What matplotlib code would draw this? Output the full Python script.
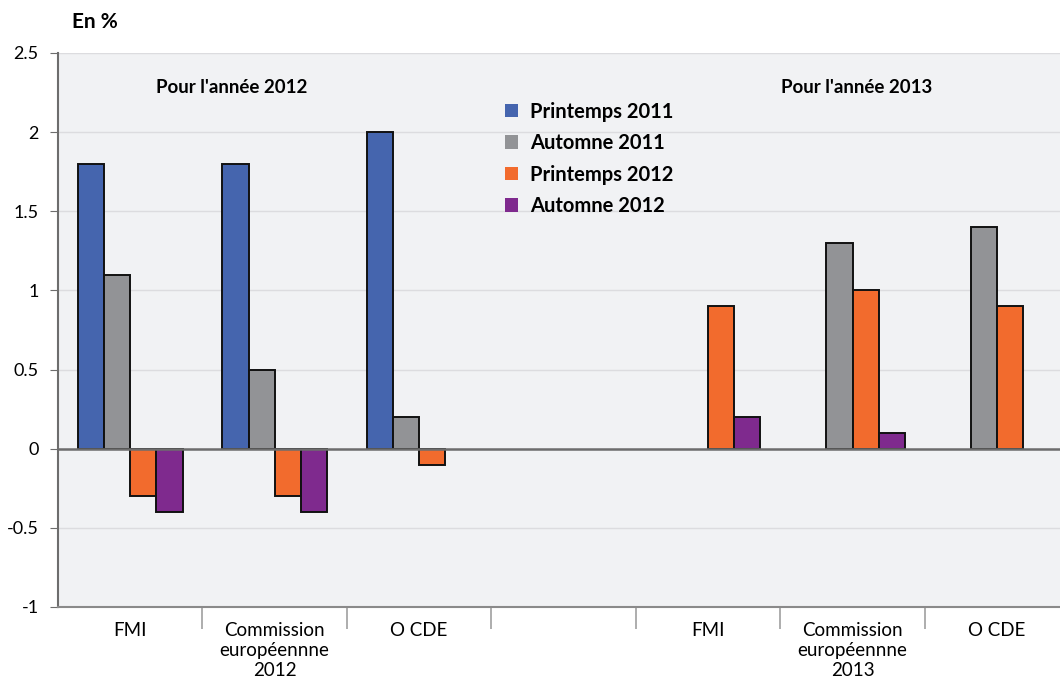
import numpy as np
import matplotlib
matplotlib.use('Agg')
from matplotlib import pyplot as plt
from matplotlib.patches import Patch

plt.rcParams['font.family'] = ['Lato', 'DejaVu Sans']

categories = ["FMI", "Commission\neuropéennne\n2012", "O CDE", "",
              "FMI", "Commission\neuropéennne\n2013", "O CDE"]
series = ["Printemps 2011", "Automne 2011", "Printemps 2012", "Automne 2012"]
# nan = no forecast published for that vintage
printemps_2011 = [1.8, 1.8, 2.0, np.nan, np.nan, np.nan, np.nan]
automne_2011 = [1.1, 0.5, 0.2, np.nan, np.nan, 1.3, 1.4]
printemps_2012 = [-0.3, -0.3, -0.1, np.nan, 0.9, 1.0, 0.9]
automne_2012 = [-0.4, -0.4, np.nan, np.nan, 0.2, 0.1, np.nan]
colors = ["#4565ae", "#929396", "#f26b2d", "#7f2a8e"]

values = [printemps_2011, automne_2011, printemps_2012, automne_2012]

fig = plt.figure(figsize=(10.6, 6.81), dpi=100)
# the plot area runs slightly past the right edge of the figure
ax = fig.add_axes([0.0547, 0.1087, 0.954, 0.8135])
ax.set_facecolor("#f1f2f4")

x = np.arange(len(categories))
width = 0.181
for i, (vals, col) in enumerate(zip(values, colors)):
    ax.bar(x + (i - 1.5) * width, vals, width, color=col,
           edgecolor="#111111", linewidth=1.4, zorder=3, align='center')

ax.set_xlim(-0.5, len(categories) - 0.5)
ax.set_ylim(-1, 2.5)
ax.set_yticks([-1, -0.5, 0, 0.5, 1, 1.5, 2, 2.5])
ax.set_yticklabels(["-1", "-0.5", "0", "0.5", "1", "1.5", "2", "2.5"])
ax.yaxis.grid(True, color="#dcdcdf", linewidth=1, zorder=0)
ax.axhline(0, color="#6d6d6d", linewidth=1.8, zorder=4)

# category labels sit between separator ticks
ax.set_xticks(x)
ax.set_xticklabels(categories, fontsize=13.5, linespacing=1.2)
ax.tick_params(axis='x', which='major', length=0, pad=11)
ax.set_xticks(np.arange(0.5, len(categories) - 0.5), minor=True)
ax.tick_params(axis='x', which='minor', length=16, color="#a0a0a0", width=1.2)
ax.tick_params(axis='y', length=6, color="#6d6d6d", labelsize=13, pad=8)

for side in ["top", "right"]:
    ax.spines[side].set_visible(False)
ax.spines["left"].set_color("#6d6d6d")
ax.spines["left"].set_linewidth(1.5)
ax.spines["bottom"].set_color("#8a8a8a")
ax.spines["bottom"].set_linewidth(1.5)

ax.text(0.70, 2.285, "Pour l'année 2012", fontsize=13.5, fontweight='bold',
        ha='center', va='center')
ax.text(5.03, 2.285, "Pour l'année 2013", fontsize=13.5, fontweight='bold',
        ha='center', va='center')

handles = [Patch(facecolor=c, edgecolor='none') for c in colors]
leg = ax.legend(handles, series, loc='upper left', bbox_to_anchor=(0.424, 0.945),
                frameon=False, handlelength=0.65, handleheight=0.65,
                handletextpad=0.6, labelspacing=0.57,
                prop={'weight': 'bold', 'size': 14.5})

fig.text(0.068, 0.968, "En %", fontsize=15, fontweight='bold', va='center')

fig.savefig("out.png", dpi=100)
